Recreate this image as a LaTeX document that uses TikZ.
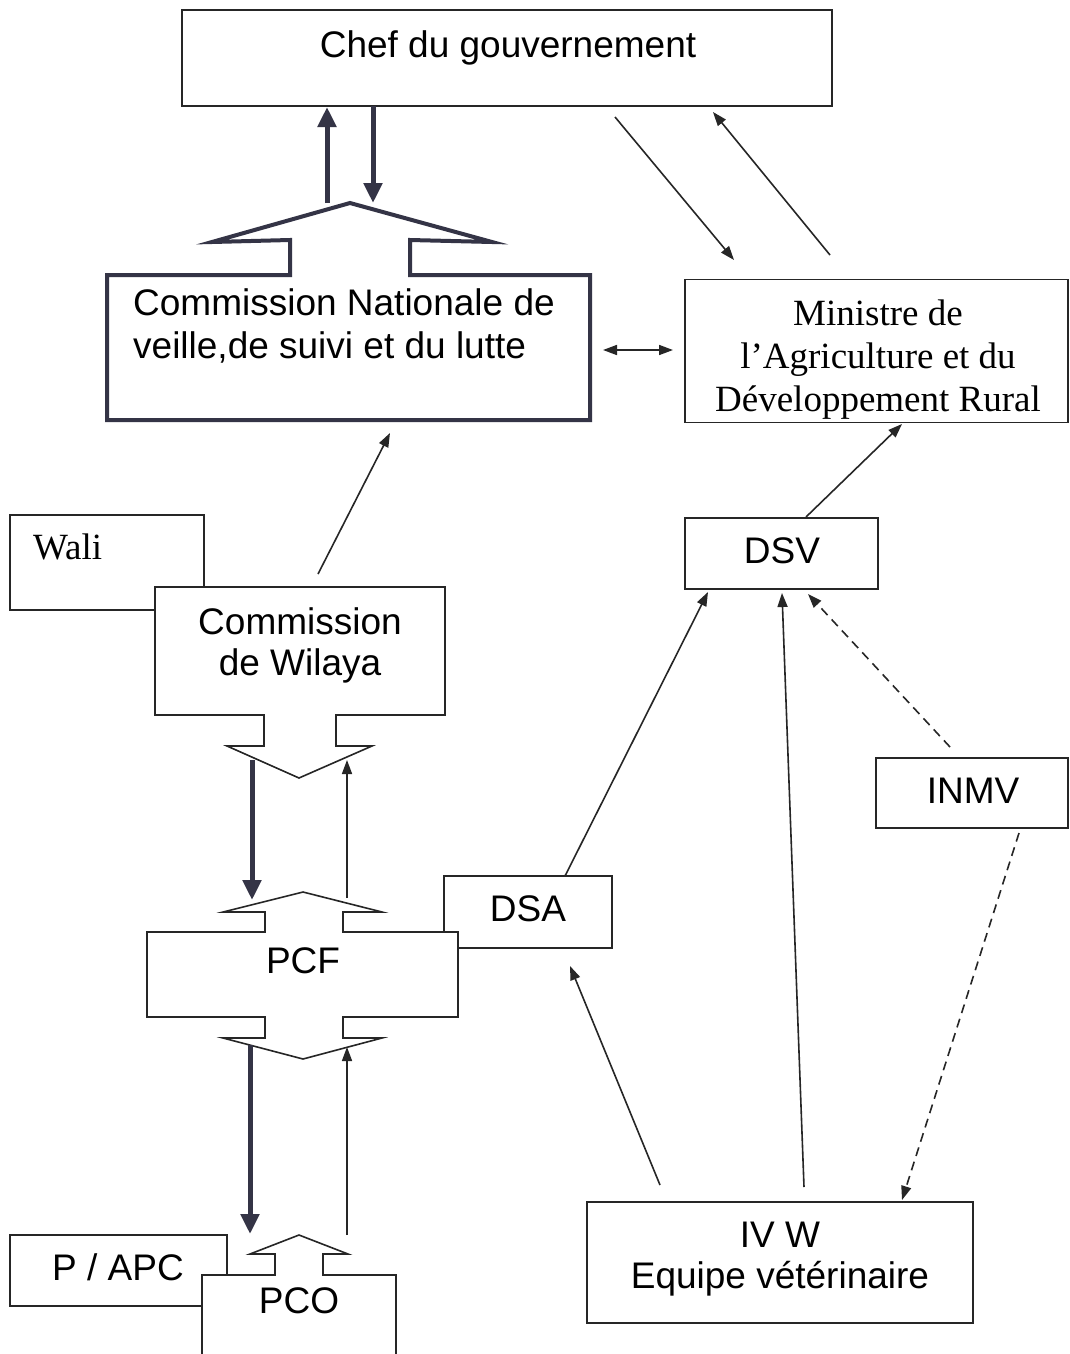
\documentclass[tikz,border=0pt]{standalone}
\usepackage{fontspec}
\setmainfont{Liberation Sans}
\newfontfamily\serifface{Liberation Serif}
\usetikzlibrary{arrows.meta}
\definecolor{thickgray}{RGB}{52,52,70}
\begin{document}
\begin{tikzpicture}[x=1pt,y=-1pt,
  box/.style={draw=black!85,line width=1.6pt,fill=white,inner sep=0pt},
  shapeline/.style={draw=black!85,line width=1.6pt,fill=white,line join=miter},
  txt/.style={inner sep=0pt,anchor=base,font=\fontsize{37}{43}\selectfont},
  stxt/.style={inner sep=0pt,anchor=base,font=\fontsize{37}{43}\selectfont\serifface},
  thin/.style={draw=black!85,line width=1.6pt,-{Triangle[width=10pt,length=14pt]}},
  thinboth/.style={draw=black!85,line width=1.6pt,{Triangle[width=10pt,length=14pt]}-{Triangle[width=10pt,length=14pt]}},
  thickarr/.style={draw=thickgray,line width=5pt,-{Triangle[width=18pt,length=20pt]}},
  dashedarr/.style={draw=black!85,line width=1.6pt,dash pattern=on 9pt off 6pt,-{Triangle[width=10pt,length=14pt]}}
]
\useasboundingbox (0,0) rectangle (1070,1354);
\fill[white] (0,0) rectangle (1070,1354);

% Chef du gouvernement
\node[box,minimum width=650pt,minimum height=96pt] (chef) at (507,58) {};
\node[txt] (cheft) at (508,57) {Chef du gouvernement};

% Commission Nationale
\draw[draw=thickgray,line width=4pt,fill=white,line join=miter]
  (107,275) -- (290,275) -- (290,240) -- (212,242) -- (350,203) -- (492,242)
  -- (410,240) -- (410,275) -- (590,275) -- (590,420) -- (107,420) -- cycle;
\node[txt,anchor=base west,align=left] (cnt1) at (133,315) {Commission Nationale de};
\node[txt,anchor=base west] (cnt2) at (133,358) {veille,de suivi et du lutte};

% Ministre
\node[box,minimum width=383pt,minimum height=143pt] (min) at (876.5,351) {};
\node[stxt] (mint1) at (878,325) {Ministre de};
\node[stxt] (mint2) at (878,368) {l’Agriculture et du};
\node[stxt] (mint3) at (878,411) {Développement Rural};

% Wali
\node[box,minimum width=194pt,minimum height=95pt] (wali) at (107,562.5) {};
\node[stxt,anchor=base west] (walit) at (33,559) {Wali};

% Commission de Wilaya
\draw[shapeline] (155,587) -- (445,587) -- (445,715) -- (336,715) -- (336,746)
  -- (372,746) -- (299,778) -- (227,746) -- (264,746) -- (264,715) -- (155,715) -- cycle;
\node[txt] (cwt1) at (300,634) {Commission};
\node[txt] (cwt2) at (300,675) {de Wilaya};

% DSA (behind PCF)
\node[box,minimum width=168pt,minimum height=72pt] (dsa) at (528,912) {};
\node[txt] (dsat) at (528,921) {DSA};

% PCF
\draw[shapeline] (147,932) -- (265,932) -- (265,912) -- (223,912) -- (303,892) -- (382,912)
  -- (343,912) -- (343,932) -- (458,932) -- (458,1017) -- (343,1017) -- (343,1038)
  -- (382,1038) -- (303,1059) -- (223,1038) -- (265,1038) -- (265,1017) -- (147,1017) -- cycle;
\node[txt] (pcft) at (303,973) {PCF};

% P / APC (behind PCO)
\node[box,minimum width=217pt,minimum height=71pt] (papc) at (118.5,1270.5) {};
\node[txt] (papct) at (118,1280) {P / APC};

% PCO
\draw[shapeline] (202,1370) -- (202,1275) -- (275,1275) -- (275,1254) -- (250,1254) -- (299,1235)
  -- (348,1254) -- (323,1254) -- (323,1275) -- (396,1275) -- (396,1370);
\node[txt] (pcot) at (299,1313) {PCO};

% DSV
\node[box,minimum width=193pt,minimum height=71pt] (dsv) at (781.5,553.5) {};
\node[txt] (dsvt) at (782,563) {DSV};

% INMV
\node[box,minimum width=192pt,minimum height=70pt] (inmv) at (972,793) {};
\node[txt] (inmvt) at (973,803) {INMV};

% IV W
\node[box,minimum width=386pt,minimum height=121pt] (ivw) at (780,1262.5) {};
\node[txt] (ivwt1) at (780,1247) {IV W};
\node[txt] (ivwt2) at (780,1288) {Equipe vétérinaire};

% connector end points
\coordinate (cnUp) at (327,203);   \coordinate (chefUp) at (327,107);
\coordinate (chefDn) at (373,106); \coordinate (cnDn) at (373,203);
\coordinate (chefA) at (615,117);  \coordinate (minA) at (734,260);
\coordinate (minB) at (830,255);   \coordinate (chefB) at (713,112);
\coordinate (cnR) at (603,350);    \coordinate (minL) at (673,350);
\coordinate (cwTop) at (318,574);  \coordinate (cnBot) at (390,433);
\coordinate (dsvTop) at (806,517); \coordinate (minBot) at (902,424);
\coordinate (cwDnS) at (252,760);  \coordinate (pcfDnE) at (252,900);
\coordinate (pcfUpS) at (347,898); \coordinate (cwUpE) at (347,760);
\coordinate (pcfDnS) at (250,1045);\coordinate (pcoDnE) at (250,1234);
\coordinate (pcoUpS) at (347,1235);\coordinate (pcfUpE) at (347,1047);
\coordinate (dsaTop) at (565,876); \coordinate (dsvBL) at (708,592);
\coordinate (ivwTopM) at (804,1187);\coordinate (dsvBM) at (782,593);
\coordinate (inmvTop) at (950,747);\coordinate (dsvBR) at (808,594);
\coordinate (inmvBot) at (1019,833);\coordinate (ivwTopR) at (902,1200);
\coordinate (ivwTopL) at (660,1185);\coordinate (dsaBot) at (570,966);

% connectors
\draw[thickarr] (cnUp) -- (chefUp);
\draw[thickarr] (chefDn) -- (cnDn);
\draw[thin] (chefA) -- (minA);
\draw[thin] (minB) -- (chefB);
\draw[thinboth] (cnR) -- (minL);
\draw[thin] (cwTop) -- (cnBot);
\draw[thin] (dsvTop) -- (minBot);
\draw[thickarr] (cwDnS) -- (pcfDnE);
\draw[thin] (pcfUpS) -- (cwUpE);
\draw[thickarr] (pcfDnS) -- (pcoDnE);
\draw[thin] (pcoUpS) -- (pcfUpE);
\draw[thin] (dsaTop) -- (dsvBL);
\draw[thin] (ivwTopM) -- (dsvBM);
\draw[dashedarr] (inmvTop) -- (dsvBR);
\draw[dashedarr] (inmvBot) -- (ivwTopR);
\draw[thin] (ivwTopL) -- (dsaBot);
\end{tikzpicture}
\end{document}
